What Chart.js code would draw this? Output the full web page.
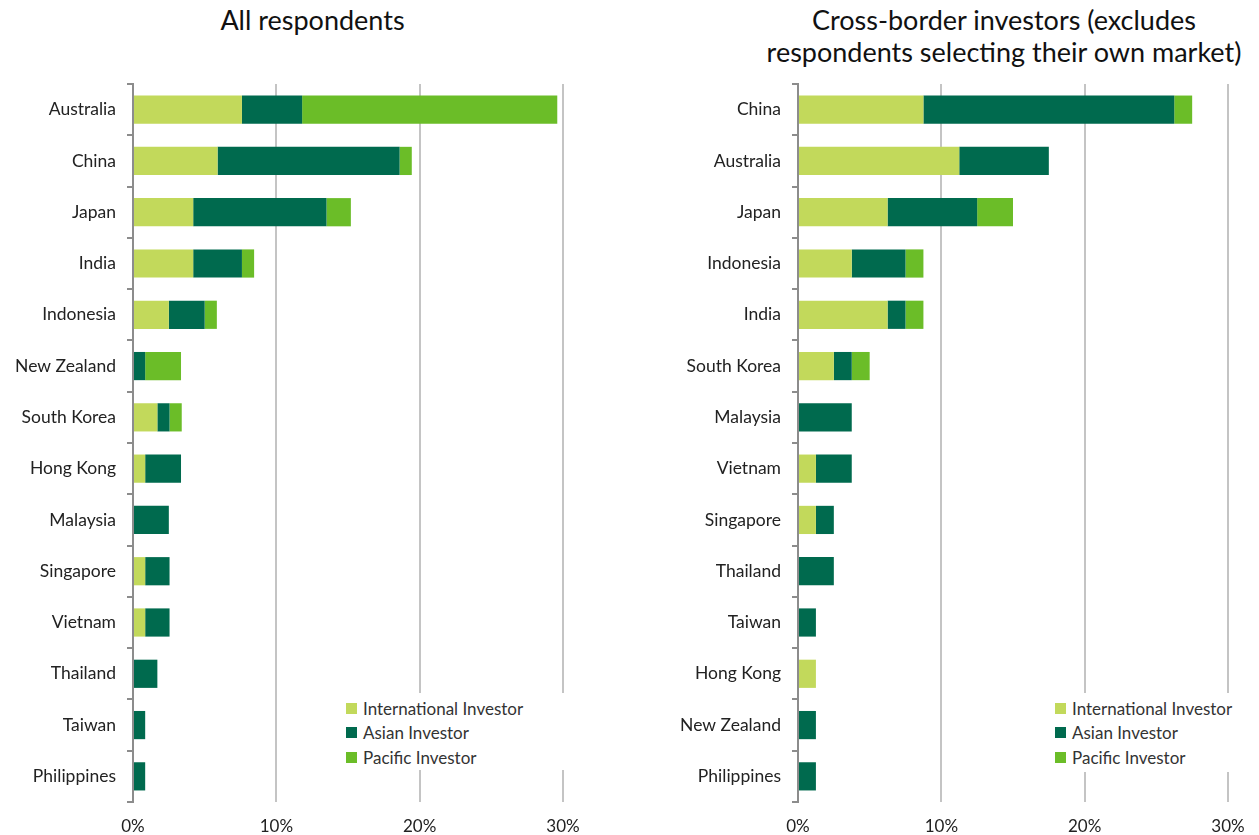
<!DOCTYPE html>
<html>
<head>
<meta charset="utf-8">
<script src="https://cdn.jsdelivr.net/npm/chart.js@4/dist/chart.umd.min.js"></script>
<style>
  body { margin: 0; background: #fff; }
  #wrap { position: relative; width: 1259px; height: 835px; overflow: hidden; font-family: Lato, sans-serif; }
  .title { position: absolute; text-align: center; font-size: 27px; line-height: 32px; color: #111; white-space: nowrap; }
  .legend { position: absolute; background: #fff; padding-top: 3px; }
  .legend div { display: flex; align-items: center; height: 24.5px; font-size: 17px; color: #333; }
  .legend span.box { width: 11px; height: 11px; margin-right: 6px; flex: none; }
  canvas { position: absolute; top: 0; }
</style>
</head>
<body>
<div id="wrap">
  <div class="title" style="left:0; width:625px; top:4px;">All respondents</div>
  <div class="title" style="left:744px; width:520px; top:4px;">Cross-border investors (excludes<br>respondents selecting their own market)</div>
  <canvas id="allChart" width="625" height="835" style="left:0"></canvas>
  <canvas id="crossChart" width="619" height="835" style="left:640px"></canvas>
  <div class="legend" id="allLegend" style="left:346px; top:693px; width:224px; height:74px;"></div>
  <div class="legend" id="crossLegend" style="left:1055px; top:693px; width:204px; height:76px;"></div>
</div>
<script>
// Series names and colours
const seriesNames = ['International Investor', 'Asian Investor', 'Pacific Investor'];
const seriesColors = ['#c2d95b', '#006a4e', '#6bbd28'];

// All respondents (% of respondents)
const allCategories = ['Australia', 'China', 'Japan', 'India', 'Indonesia', 'New Zealand', 'South Korea',
  'Hong Kong', 'Malaysia', 'Singapore', 'Vietnam', 'Thailand', 'Taiwan', 'Philippines'];
const allIntl    = [7.6, 5.9, 4.2, 4.2, 2.5, 0,   1.7,  0.85, 0,   0.85, 0.85, 0,   0,    0];
const allAsian   = [4.2, 12.7, 9.3, 3.4, 2.5, 0.85, 0.85, 2.5, 2.5, 1.7,  1.7,  1.7, 0.85, 0.85];
const allPacific = [17.8, 0.85, 1.7, 0.85, 0.85, 2.5, 0.85, 0,  0,   0,    0,    0,   0,    0];

// Cross-border investors only
const crossCategories = ['China', 'Australia', 'Japan', 'Indonesia', 'India', 'South Korea', 'Malaysia',
  'Vietnam', 'Singapore', 'Thailand', 'Taiwan', 'Hong Kong', 'New Zealand', 'Philippines'];
const crossIntl    = [8.75, 11.25, 6.25, 3.75, 6.25, 2.5,  0,    1.25, 1.25, 0,   0,    1.25, 0,    0];
const crossAsian   = [17.5, 6.25,  6.25, 3.75, 1.25, 1.25, 3.75, 2.5,  1.25, 2.5, 1.25, 0,    1.25, 1.25];
const crossPacific = [1.25, 0,     2.5,  1.25, 1.25, 1.25, 0,    0,    0,    0,   0,    0,    0,    0];

// x axis ticks
const xTickValues = [0, 10, 20, 30];

const fontFamily = 'Lato, sans-serif';

function makeChart(id, categories, series, axisWidth, rightPad) {
  const ctx = document.getElementById(id).getContext('2d');
  return new Chart(ctx, {
    type: 'bar',
    data: {
      labels: categories,
      datasets: series.map((data, i) => ({
        label: seriesNames[i],
        data: data,
        backgroundColor: seriesColors[i],
        borderWidth: 0,
        barPercentage: 0.55,
        categoryPercentage: 1
      }))
    },
    options: {
      indexAxis: 'y',
      responsive: false,
      animation: false,
      layout: { padding: { top: 84, right: rightPad, left: 0, bottom: 0 } },
      plugins: { legend: { display: false }, title: { display: false }, tooltip: { enabled: false } },
      scales: {
        x: {
          stacked: true,
          min: 0,
          max: 30,
          afterBuildTicks: (scale) => { scale.ticks = xTickValues.map(v => ({ value: v })); },
          afterFit: (scale) => { scale.height = 33; },
          border: { display: false },
          grid: {
            drawTicks: false,
            lineWidth: 2,
            color: (c) => (c.tick && c.tick.value === 0) ? 'rgba(0,0,0,0)' : '#c4c4c4'
          },
          ticks: {
            padding: 14,
            color: '#222',
            font: { family: fontFamily, size: 17 },
            callback: (v) => v + '%'
          }
        },
        y: {
          stacked: true,
          afterFit: (scale) => { scale.width = axisWidth; },
          border: { display: true, color: '#8c8c8c', width: 2 },
          grid: { drawOnChartArea: false, drawTicks: true, tickLength: 6, color: '#8c8c8c', lineWidth: 2, offset: true },
          ticks: { padding: 11, color: '#222', font: { family: fontFamily, size: 17.5 } }
        }
      }
    }
  });
}

function buildLegend(id) {
  const el = document.getElementById(id);
  seriesNames.forEach((name, i) => {
    const row = document.createElement('div');
    const box = document.createElement('span');
    box.className = 'box';
    box.style.background = seriesColors[i];
    row.appendChild(box);
    row.appendChild(document.createTextNode(name));
    el.appendChild(row);
  });
}

makeChart('allChart', allCategories, [allIntl, allAsian, allPacific], 133, 62);
makeChart('crossChart', crossCategories, [crossIntl, crossAsian, crossPacific], 158, 31);
buildLegend('allLegend');
buildLegend('crossLegend');
</script>
</body>
</html>
